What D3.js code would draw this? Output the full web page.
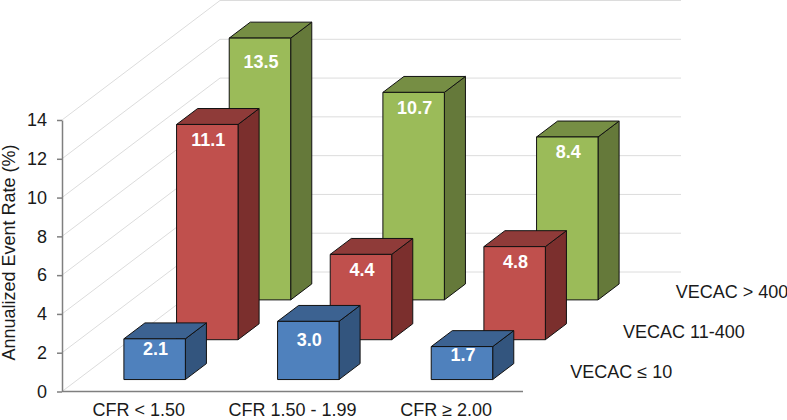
<!DOCTYPE html>
<html>
<head>
<meta charset="utf-8">
<script src="https://cdn.jsdelivr.net/npm/d3@7"></script>
<style>
html,body{margin:0;padding:0;background:#fff}
text{font-family:"Liberation Sans",Arial,sans-serif}
</style>
</head>
<body>
<svg id="chart" width="787" height="420"></svg>
<script>
const categories = ["CFR < 1.50", "CFR 1.50 - 1.99", "CFR ≥ 2.00"];
const seriesNames = ["VECAC ≤ 10", "VECAC 11-400", "VECAC > 400"];
const vecacLow = [2.1, 3.0, 1.7];
const vecacMid = [11.1, 4.4, 4.8];
const vecacHigh = [13.5, 10.7, 8.4];
const yTicks = [0, 2, 4, 6, 8, 10, 12, 14];

const seriesValues = [vecacLow, vecacMid, vecacHigh];
const palette = [
  {front:"#4f81bd", top:"#3c6291", side:"#33557e"},
  {front:"#c0504d", top:"#8f3b39", side:"#7b2f2d"},
  {front:"#9bbb59", top:"#768e44", side:"#65793a"}
];
// hand placement of a few data labels, relative to the default, px
const labelShift = {"13.5":8, "2.1":-5, "1.7":-7, "3.0":3};

const originX = 62, floorY = 391.5, plotW = 461, depthW = 158, depthH = 119.5;
const fontSize = 18;
const svg = d3.select("#chart");

const y = d3.scaleLinear().domain([0, 14]).range([floorY, 120]);
const x = d3.scaleBand().domain(categories).range([originX, originX + plotW]).paddingInner(0.6).paddingOuter(0.3);
const dz = d3.scaleBand().domain(seriesNames).range([0, 1]).paddingInner(0.6).paddingOuter(0.3);
const zCenter = d3.scalePoint().domain(seriesNames).range([0, 1]).padding(0.5);
const ox = f => f * depthW, oy = f => -f * depthH;

// walls
const grid = svg.append("g").attr("fill", "none").attr("stroke", "#dcdcdc").attr("stroke-width", 1);
yTicks.forEach(t => {
  const sy = y(t);
  grid.append("path").attr("d", d3.line()([
    [originX, sy], [originX + depthW, sy + oy(1)], [originX + depthW + plotW, sy + oy(1)]
  ]));
});

// y axis
const axisG = svg.append("g").attr("transform", `translate(${originX},0)`)
  .call(d3.axisLeft(y).tickValues(yTicks).tickSize(5).tickSizeOuter(0).tickPadding(10).tickFormat(d3.format("d")));
axisG.selectAll("path,line").attr("stroke", "#7f7f7f").attr("stroke-width", 1.5);
axisG.selectAll("text").attr("font-size", fontSize).attr("fill", "#1a1a1a").style("font-family", '"Liberation Sans",Arial,sans-serif');

// floor front edge
svg.append("line").attr("x1", originX).attr("x2", originX + plotW)
  .attr("y1", floorY).attr("y2", floorY).attr("stroke", "#7f7f7f").attr("stroke-width", 1.5);

// bars, back series first
const bars = svg.append("g").attr("stroke", "#111").attr("stroke-width", 1).attr("stroke-linejoin", "round");
const labels = [];
d3.range(seriesNames.length - 1, -1, -1).forEach(si => {
  const name = seriesNames[si], colors = palette[si];
  const near = dz(name), far = near + dz.bandwidth();
  categories.forEach((cat, ci) => {
    const v = seriesValues[si][ci];
    const x0 = x(cat) + ox(near), x1 = x0 + x.bandwidth();
    const base = y(0) + oy(near), top = base - (y(0) - y(v));
    const ddx = ox(far) - ox(near), ddy = oy(far) - oy(near);
    bars.append("path").attr("fill", colors.side).attr("d", d3.line()([
      [x1, top], [x1 + ddx, top + ddy], [x1 + ddx, base + ddy], [x1, base]
    ]) + "Z");
    bars.append("path").attr("fill", colors.top).attr("d", d3.line()([
      [x0, top], [x0 + ddx, top + ddy], [x1 + ddx, top + ddy], [x1, top]
    ]) + "Z");
    bars.append("rect").attr("fill", colors.front)
      .attr("x", x0).attr("y", top).attr("width", x1 - x0).attr("height", base - top);
    const txt = v.toFixed(1);
    labels.push({txt, lx: (x0 + x1) / 2 + 1, ly: top + 15.5 + (labelShift[txt] || 0)});
  });
});
svg.append("g").selectAll("text").data(labels).join("text")
  .attr("x", d => d.lx).attr("y", d => d.ly).attr("text-anchor", "middle").attr("dominant-baseline", "central")
  .attr("font-size", fontSize).attr("font-weight", "bold").attr("fill", "#fff").text(d => d.txt);

// category labels
svg.append("g").selectAll("text").data(categories).join("text")
  .attr("x", d => x(d) + x.bandwidth() / 2).attr("y", 416)
  .attr("text-anchor", "middle").attr("font-size", fontSize).attr("fill", "#1a1a1a").text(d => d);

// depth axis labels
svg.append("g").selectAll("text").data(seriesNames).join("text")
  .attr("x", d => originX + plotW + ox(zCenter(d)) + 21).attr("y", d => floorY + oy(zCenter(d)))
  .attr("dominant-baseline", "central").attr("font-size", fontSize).attr("fill", "#1a1a1a").text(d => d);

// y title
svg.append("text").attr("transform", "translate(15,252.5) rotate(-90)")
  .attr("text-anchor", "middle").attr("font-size", fontSize).attr("fill", "#1a1a1a").text("Annualized Event Rate (%)");
</script>
</body>
</html>
